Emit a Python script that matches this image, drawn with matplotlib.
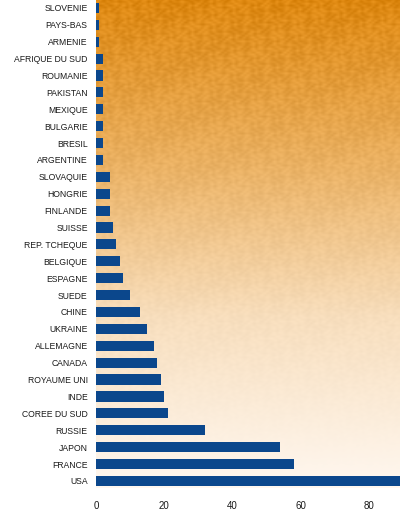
import numpy as np
import matplotlib.pyplot as plt

# nombre de réacteurs par pays
pays = ['USA', 'FRANCE', 'JAPON', 'RUSSIE', 'COREE DU SUD', 'INDE', 'ROYAUME UNI',
        'CANADA', 'ALLEMAGNE', 'UKRAINE', 'CHINE', 'SUEDE', 'ESPAGNE', 'BELGIQUE',
        'REP. TCHEQUE', 'SUISSE', 'FINLANDE', 'HONGRIE', 'SLOVAQUIE', 'ARGENTINE',
        'BRESIL', 'BULGARIE', 'MEXIQUE', 'PAKISTAN', 'ROUMANIE', 'AFRIQUE DU SUD',
        'ARMENIE', 'PAYS-BAS', 'SLOVENIE']
reacteurs = [104, 58, 54, 32, 21, 20, 19, 18, 17, 15, 13, 10, 8, 7, 6, 5, 4, 4, 4,
             2, 2, 2, 2, 2, 2, 2, 1, 1, 1]
x_ticks = [0, 20, 40, 60, 80]

fig = plt.figure(figsize=(4, 5.15), dpi=100)
ax = fig.add_axes([0.24, 0.0524, 0.76, 0.9476])

# fond dégradé orange avec un léger relief
h, w = 260, 200
yy, xx = np.mgrid[0:h, 0:w].astype(float)
t = yy / (h - 1)
stops = np.array([0.0, 0.35, 0.65, 1.0])
cols = np.array([[0.87, 0.53, 0.06],
                 [0.92, 0.70, 0.40],
                 [0.97, 0.87, 0.74],
                 [1.00, 0.97, 0.94]])
img = np.stack([np.interp(t, stops, cols[:, k]) for k in range(3)], axis=-1)
relief = (np.sin(xx * 0.7 + 1.8 * np.sin(yy * 0.9 + xx * 0.15))
          * np.sin(yy * 1.1 + 1.5 * np.sin(xx * 0.45)))
img = img + (relief * 0.05 * (1 - t) ** 1.2)[..., None]
img = np.clip(img, 0, 1)
ax.imshow(img, extent=[0, 1, 0, 1], transform=ax.transAxes, aspect='auto',
          zorder=0, interpolation='bilinear')

pos = np.arange(len(pays))
ax.barh(pos, reacteurs, height=0.6, color='#0b478c', zorder=2)

ax.set_xlim(0, 89)
ax.set_ylim(-0.42, len(pays) - 0.53)
ax.set_yticks(pos)
ax.set_yticklabels(pays, fontsize=6.2, family='Liberation Sans', color='#1a1a1a')
ax.set_xticks(x_ticks)
ax.set_xticklabels([str(v) for v in x_ticks], fontsize=7, family='Liberation Sans',
                   color='#1a1a1a')
ax.tick_params(axis='y', length=0, pad=6)
ax.tick_params(axis='x', length=0, pad=9)
for s in ax.spines.values():
    s.set_visible(False)

fig.savefig('out.png', dpi=100)
